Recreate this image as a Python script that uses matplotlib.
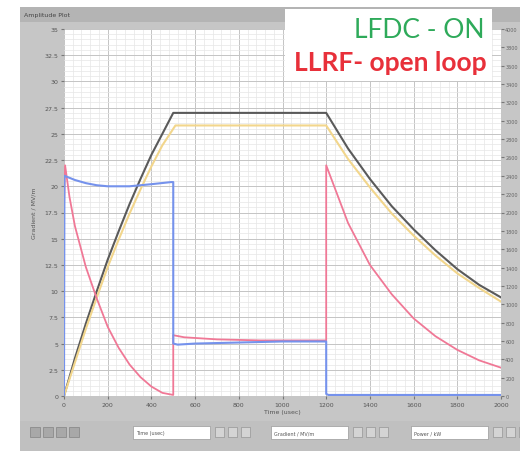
import matplotlib
matplotlib.use('Agg')
import matplotlib.pyplot as plt
from matplotlib.patches import Rectangle
from matplotlib.ticker import MultipleLocator

# gradient (MV/m) traces, time in usec
t_black = [0, 50, 100, 150, 200, 250, 300, 350, 400, 450, 500, 1200, 1300, 1400, 1500, 1600, 1700, 1800, 1900, 2000]
g_black = [0, 3.6, 6.9, 10.0, 13.0, 15.7, 18.3, 20.7, 23.0, 25.0, 27.0, 27.0, 23.6, 20.7, 18.1, 15.9, 13.9, 12.1, 10.6, 9.4]

t_yellow = [0, 50, 100, 150, 200, 250, 300, 350, 400, 450, 510, 1200, 1300, 1400, 1500, 1600, 1700, 1800, 1900, 2000]
g_yellow = [0, 3.2, 6.4, 9.4, 12.3, 14.9, 17.4, 19.7, 21.9, 23.9, 25.8, 25.8, 22.6, 19.9, 17.4, 15.3, 13.4, 11.7, 10.3, 9.0]

# power traces, shown on the gradient scale
t_blue = [0, 2, 50, 100, 150, 200, 300, 400, 490, 500, 500, 520, 600, 800, 1000, 1200, 1200, 1210, 2000]
p_blue = [0, 21.0, 20.6, 20.3, 20.1, 20.0, 20.0, 20.2, 20.4, 20.4, 5.0, 4.9, 5.0, 5.1, 5.2, 5.2, 0.2, 0.1, 0.1]

t_pink = [0, 5, 25, 50, 100, 150, 200, 250, 300, 350, 400, 450, 500, 500, 550, 700, 900, 1100, 1200, 1200,
          1300, 1400, 1500, 1600, 1700, 1800, 1900, 2000]
p_pink = [18.0, 22.0, 19.0, 16.2, 12.3, 9.3, 6.6, 4.6, 3.0, 1.8, 0.9, 0.3, 0.1, 5.8, 5.6, 5.4, 5.3, 5.3, 5.3, 22.0,
          16.5, 12.5, 9.7, 7.4, 5.7, 4.4, 3.4, 2.7]

W, H = 520, 452
fig = plt.figure(figsize=(W / 100, H / 100), dpi=100)
fig.patch.set_facecolor('white')

def box(x, y, w, h, z=-5, **kw):
    # pixel coords from top-left
    r = Rectangle((x / W, 1 - (y + h) / H), w / W, h / H, transform=fig.transFigure, zorder=z, **kw)
    fig.patches.append(r)
    return r

# labview panel
box(20, 8, 500, 444, facecolor='#c6c6c6', edgecolor='none', z=-10)
box(20, 8, 500, 15, facecolor='#b4b4b4', edgecolor='none', z=-9)
fig.text(24 / W, 1 - 16 / H, 'Amplitude Plot', fontsize=4.5, color='#444444', va='center')

ax = fig.add_axes([64 / W, 1 - 397 / H, (501 - 64) / W, (397 - 30) / H])
ax.set_facecolor('white')
ax.set_xlim(0, 2000)
ax.set_ylim(0, 35)
ax.xaxis.set_major_locator(MultipleLocator(200))
ax.xaxis.set_minor_locator(MultipleLocator(40))
ax.yaxis.set_major_locator(MultipleLocator(2.5))
ax.yaxis.set_minor_locator(MultipleLocator(0.5))
ax.grid(which='major', color='#c4c4c4', lw=0.7)
ax.grid(which='minor', color='#e6e6e6', lw=0.5)
ax.set_axisbelow(True)
for s in ax.spines.values():
    s.set_visible(False)
ax.tick_params(which='both', length=0)
ax.tick_params(which='major', labelsize=4.5, labelcolor='#555555', length=2, color='#777777', pad=2)
ax.set_xticks(range(0, 2001, 200))
ax.set_xticklabels([str(v) for v in range(0, 2001, 200)])
yt = [i * 2.5 for i in range(15)]
ax.set_yticks(yt)
ax.set_yticklabels([('%g' % v) for v in yt])
ax.set_xlabel('Time (usec)', fontsize=4.5, color='#555555', labelpad=2)
ax.set_ylabel('Gradient / MV/m', fontsize=4.5, color='#555555', labelpad=6)

ax.plot(t_black, g_black, color='#5a5a5a', lw=1.5)
ax.plot(t_yellow, g_yellow, color='#f2d68c', lw=1.5)
ax.plot(t_pink, p_pink, color='#f07896', lw=1.3)
ax.plot(t_blue, p_blue, color='#7592ec', lw=1.5)

ax2 = ax.twinx()
ax2.set_ylim(0, 4000)
ax2.yaxis.set_major_locator(MultipleLocator(200))
for s in ax2.spines.values():
    s.set_visible(False)
ax2.tick_params(labelsize=3.5, labelcolor='#666666', length=2, color='#777777', pad=1)

# legend note
box(285, 10, 207, 72, z=5, facecolor='white', edgecolor='none')
fig.text(484 / W, 1 - 30 / H, 'LFDC - ON', fontsize=19, color='#2eaa5a', ha='right', va='center',
         family='Lato', zorder=6)
fig.text(487 / W, 1 - 63 / H, 'LLRF- open loop', fontsize=19, color='#e8303a', ha='right', va='center',
         family='Lato', fontweight='bold', zorder=6)

# bottom toolbar
box(20, 422, 500, 30, facecolor='#c0c0c0', edgecolor='none', z=-8)
for x0, lab in [(133, 'Time (usec)'), (271, 'Gradient / MV/m'), (411, 'Power / kW')]:
    box(x0, 427, 77, 13, z=2, facecolor='white', edgecolor='#999999', lw=0.5)
    fig.text((x0 + 3) / W, 1 - 434 / H, lab, fontsize=3.5, color='#555555', va='center')
    for k in range(3):
        box(x0 + 82 + k * 13, 428, 9, 10, z=2, facecolor='#d4d4d4', edgecolor='#888888', lw=0.4)
for k in range(4):
    box(30 + k * 13, 428, 10, 10, z=2, facecolor='#a8a8a8', edgecolor='#777777', lw=0.4)

fig.savefig('out.png', dpi=100)
